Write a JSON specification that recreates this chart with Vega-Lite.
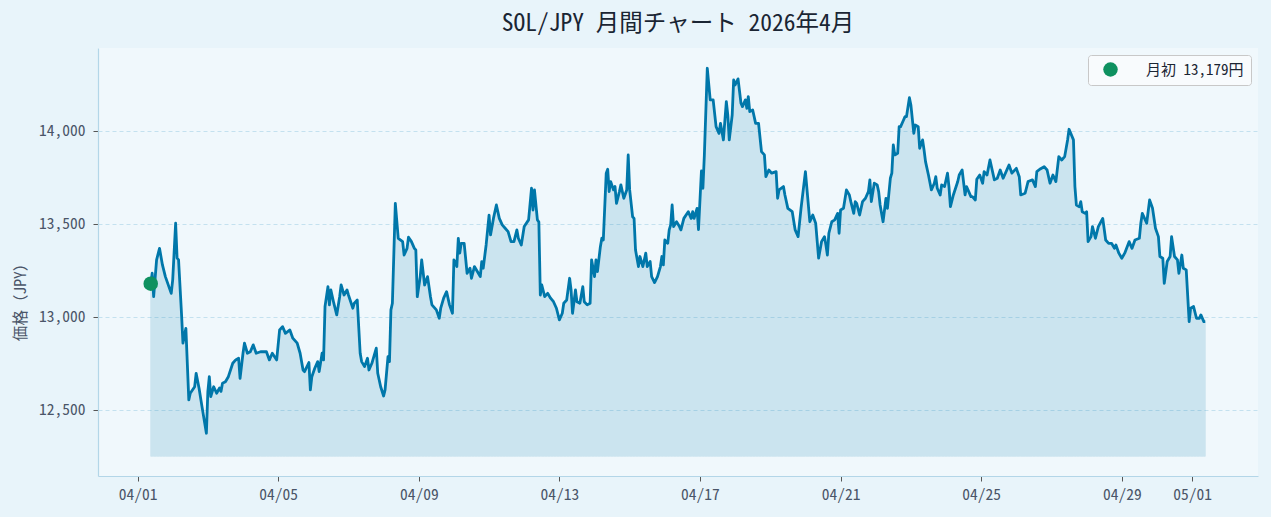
{
  "$schema": "https://vega.github.io/schema/vega-lite/v6.json",
  "width": 1160,
  "height": 428,
  "autosize": {"type": "none"},
  "padding": {"left": 98, "top": 48, "right": 13, "bottom": 41},
  "background": "#e8f4fa",
  "title": {
    "text": "SOL/JPY 月間チャート 2026年4月",
    "fontSize": 23.5,
    "font": "Noto Sans Mono CJK JP",
    "fontWeight": "normal",
    "color": "#1a2533",
    "anchor": "middle",
    "offset": 13
  },
  "config": {
    "view": {"fill": "#f0f8fc", "stroke": null},
    "axis": {
      "labelFont": "Noto Sans Mono CJK JP",
      "titleFont": "Noto Sans Mono CJK JP",
      "labelFontSize": 15.5,
      "titleFontSize": 15.5,
      "titleFontWeight": "normal",
      "labelFontWeight": "normal",
      "labelColor": "#4a5568",
      "titleColor": "#4a5568",
      "domainColor": "#b3d6e8",
      "domainWidth": 1.2,
      "tickColor": "#555555",
      "tickSize": 5
    }
  },
  "datasets": {
    "prices": [
      {"t": "2026-04-01T09:00", "price": 13179},
      {"t": "2026-04-01T10:00", "price": 13235},
      {"t": "2026-04-01T11:00", "price": 13109},
      {"t": "2026-04-01T13:00", "price": 13307},
      {"t": "2026-04-01T15:00", "price": 13369},
      {"t": "2026-04-01T17:00", "price": 13280},
      {"t": "2026-04-01T19:00", "price": 13217},
      {"t": "2026-04-01T23:00", "price": 13127},
      {"t": "2026-04-02T00:00", "price": 13199},
      {"t": "2026-04-02T02:00", "price": 13504},
      {"t": "2026-04-02T03:00", "price": 13317},
      {"t": "2026-04-02T04:00", "price": 13307},
      {"t": "2026-04-02T06:00", "price": 13020},
      {"t": "2026-04-02T07:00", "price": 12859},
      {"t": "2026-04-02T09:00", "price": 12939},
      {"t": "2026-04-02T11:00", "price": 12554},
      {"t": "2026-04-02T12:00", "price": 12590},
      {"t": "2026-04-02T15:00", "price": 12625},
      {"t": "2026-04-02T16:00", "price": 12697},
      {"t": "2026-04-02T18:00", "price": 12617},
      {"t": "2026-04-02T20:00", "price": 12518},
      {"t": "2026-04-02T23:00", "price": 12375},
      {"t": "2026-04-03T00:00", "price": 12598},
      {"t": "2026-04-03T01:00", "price": 12679},
      {"t": "2026-04-03T02:00", "price": 12572},
      {"t": "2026-04-03T04:00", "price": 12625},
      {"t": "2026-04-03T06:00", "price": 12590},
      {"t": "2026-04-03T08:00", "price": 12618},
      {"t": "2026-04-03T09:00", "price": 12600},
      {"t": "2026-04-03T10:00", "price": 12644},
      {"t": "2026-04-03T12:00", "price": 12652},
      {"t": "2026-04-03T14:00", "price": 12679},
      {"t": "2026-04-03T17:00", "price": 12751},
      {"t": "2026-04-03T19:00", "price": 12769},
      {"t": "2026-04-03T21:00", "price": 12778},
      {"t": "2026-04-03T22:00", "price": 12670},
      {"t": "2026-04-04T00:00", "price": 12805},
      {"t": "2026-04-04T01:00", "price": 12859},
      {"t": "2026-04-04T03:00", "price": 12805},
      {"t": "2026-04-04T05:00", "price": 12813},
      {"t": "2026-04-04T07:00", "price": 12850},
      {"t": "2026-04-04T09:00", "price": 12805},
      {"t": "2026-04-04T12:00", "price": 12813},
      {"t": "2026-04-04T16:00", "price": 12813},
      {"t": "2026-04-04T18:00", "price": 12769},
      {"t": "2026-04-04T20:00", "price": 12805},
      {"t": "2026-04-04T23:00", "price": 12769},
      {"t": "2026-04-05T01:00", "price": 12930},
      {"t": "2026-04-05T03:00", "price": 12948},
      {"t": "2026-04-05T05:00", "price": 12912},
      {"t": "2026-04-05T08:00", "price": 12930},
      {"t": "2026-04-05T10:00", "price": 12886},
      {"t": "2026-04-05T13:00", "price": 12859},
      {"t": "2026-04-05T15:00", "price": 12805},
      {"t": "2026-04-05T17:00", "price": 12715},
      {"t": "2026-04-05T18:00", "price": 12706},
      {"t": "2026-04-05T21:00", "price": 12755},
      {"t": "2026-04-05T22:00", "price": 12608},
      {"t": "2026-04-05T23:00", "price": 12679},
      {"t": "2026-04-06T01:00", "price": 12724},
      {"t": "2026-04-06T03:00", "price": 12760},
      {"t": "2026-04-06T04:00", "price": 12706},
      {"t": "2026-04-06T06:00", "price": 12805},
      {"t": "2026-04-06T07:00", "price": 12769},
      {"t": "2026-04-06T08:00", "price": 13056},
      {"t": "2026-04-06T10:00", "price": 13163},
      {"t": "2026-04-06T11:00", "price": 13065},
      {"t": "2026-04-06T12:00", "price": 13145},
      {"t": "2026-04-06T14:00", "price": 13074},
      {"t": "2026-04-06T16:00", "price": 13011},
      {"t": "2026-04-06T18:00", "price": 13109},
      {"t": "2026-04-06T19:00", "price": 13172},
      {"t": "2026-04-06T21:00", "price": 13118},
      {"t": "2026-04-06T23:00", "price": 13145},
      {"t": "2026-04-07T00:00", "price": 13118},
      {"t": "2026-04-07T03:00", "price": 13047},
      {"t": "2026-04-07T04:00", "price": 13074},
      {"t": "2026-04-07T06:00", "price": 13091},
      {"t": "2026-04-07T08:00", "price": 12805},
      {"t": "2026-04-07T09:00", "price": 12760},
      {"t": "2026-04-07T11:00", "price": 12733},
      {"t": "2026-04-07T13:00", "price": 12778},
      {"t": "2026-04-07T14:00", "price": 12715},
      {"t": "2026-04-07T16:00", "price": 12751},
      {"t": "2026-04-07T19:00", "price": 12832},
      {"t": "2026-04-07T20:00", "price": 12697},
      {"t": "2026-04-07T22:00", "price": 12625},
      {"t": "2026-04-08T00:00", "price": 12575},
      {"t": "2026-04-08T01:00", "price": 12608},
      {"t": "2026-04-08T03:00", "price": 12787},
      {"t": "2026-04-08T04:00", "price": 12760},
      {"t": "2026-04-08T05:00", "price": 13038},
      {"t": "2026-04-08T06:00", "price": 13074},
      {"t": "2026-04-08T08:00", "price": 13611},
      {"t": "2026-04-08T10:00", "price": 13423},
      {"t": "2026-04-08T13:00", "price": 13405},
      {"t": "2026-04-08T14:00", "price": 13333},
      {"t": "2026-04-08T16:00", "price": 13369},
      {"t": "2026-04-08T17:00", "price": 13429},
      {"t": "2026-04-08T19:00", "price": 13405},
      {"t": "2026-04-08T21:00", "price": 13369},
      {"t": "2026-04-08T22:00", "price": 13360},
      {"t": "2026-04-08T23:00", "price": 13109},
      {"t": "2026-04-09T01:00", "price": 13217},
      {"t": "2026-04-09T02:00", "price": 13307},
      {"t": "2026-04-09T04:00", "price": 13172},
      {"t": "2026-04-09T06:00", "price": 13217},
      {"t": "2026-04-09T08:00", "price": 13109},
      {"t": "2026-04-09T09:00", "price": 13065},
      {"t": "2026-04-09T12:00", "price": 13038},
      {"t": "2026-04-09T14:00", "price": 12993},
      {"t": "2026-04-09T15:00", "price": 13047},
      {"t": "2026-04-09T17:00", "price": 13101},
      {"t": "2026-04-09T19:00", "price": 13136},
      {"t": "2026-04-09T21:00", "price": 13065},
      {"t": "2026-04-09T23:00", "price": 13020},
      {"t": "2026-04-10T00:00", "price": 13307},
      {"t": "2026-04-10T02:00", "price": 13271},
      {"t": "2026-04-10T03:00", "price": 13423},
      {"t": "2026-04-10T04:00", "price": 13343},
      {"t": "2026-04-10T05:00", "price": 13396},
      {"t": "2026-04-10T07:00", "price": 13396},
      {"t": "2026-04-10T09:00", "price": 13235},
      {"t": "2026-04-10T11:00", "price": 13262},
      {"t": "2026-04-10T12:00", "price": 13208},
      {"t": "2026-04-10T14:00", "price": 13271},
      {"t": "2026-04-10T16:00", "price": 13244},
      {"t": "2026-04-10T18:00", "price": 13217},
      {"t": "2026-04-10T19:00", "price": 13298},
      {"t": "2026-04-10T20:00", "price": 13262},
      {"t": "2026-04-10T22:00", "price": 13387},
      {"t": "2026-04-11T00:00", "price": 13548},
      {"t": "2026-04-11T01:00", "price": 13441},
      {"t": "2026-04-11T03:00", "price": 13530},
      {"t": "2026-04-11T05:00", "price": 13602},
      {"t": "2026-04-11T07:00", "price": 13530},
      {"t": "2026-04-11T09:00", "price": 13495},
      {"t": "2026-04-11T11:00", "price": 13477},
      {"t": "2026-04-11T13:00", "price": 13459},
      {"t": "2026-04-11T15:00", "price": 13405},
      {"t": "2026-04-11T17:00", "price": 13405},
      {"t": "2026-04-11T19:00", "price": 13468},
      {"t": "2026-04-11T20:00", "price": 13423},
      {"t": "2026-04-11T22:00", "price": 13387},
      {"t": "2026-04-12T00:00", "price": 13486},
      {"t": "2026-04-12T03:00", "price": 13522},
      {"t": "2026-04-12T05:00", "price": 13692},
      {"t": "2026-04-12T06:00", "price": 13575},
      {"t": "2026-04-12T07:00", "price": 13683},
      {"t": "2026-04-12T09:00", "price": 13522},
      {"t": "2026-04-12T10:00", "price": 13510},
      {"t": "2026-04-12T11:00", "price": 13118},
      {"t": "2026-04-12T12:00", "price": 13172},
      {"t": "2026-04-12T14:00", "price": 13109},
      {"t": "2026-04-12T16:00", "price": 13127},
      {"t": "2026-04-12T18:00", "price": 13101},
      {"t": "2026-04-12T20:00", "price": 13082},
      {"t": "2026-04-12T22:00", "price": 13047},
      {"t": "2026-04-13T00:00", "price": 12984},
      {"t": "2026-04-13T02:00", "price": 13020},
      {"t": "2026-04-13T03:00", "price": 13074},
      {"t": "2026-04-13T05:00", "price": 13091},
      {"t": "2026-04-13T07:00", "price": 13208},
      {"t": "2026-04-13T08:00", "price": 13145},
      {"t": "2026-04-13T09:00", "price": 13020},
      {"t": "2026-04-13T11:00", "price": 13145},
      {"t": "2026-04-13T12:00", "price": 13082},
      {"t": "2026-04-13T14:00", "price": 13074},
      {"t": "2026-04-13T16:00", "price": 13163},
      {"t": "2026-04-13T17:00", "price": 13082},
      {"t": "2026-04-13T19:00", "price": 13065},
      {"t": "2026-04-13T21:00", "price": 13074},
      {"t": "2026-04-13T22:00", "price": 13307},
      {"t": "2026-04-14T00:00", "price": 13217},
      {"t": "2026-04-14T01:00", "price": 13307},
      {"t": "2026-04-14T02:00", "price": 13244},
      {"t": "2026-04-14T04:00", "price": 13378},
      {"t": "2026-04-14T05:00", "price": 13423},
      {"t": "2026-04-14T06:00", "price": 13414},
      {"t": "2026-04-14T08:00", "price": 13773},
      {"t": "2026-04-14T09:00", "price": 13794},
      {"t": "2026-04-14T10:00", "price": 13674},
      {"t": "2026-04-14T11:00", "price": 13728},
      {"t": "2026-04-14T13:00", "price": 13683},
      {"t": "2026-04-14T14:00", "price": 13701},
      {"t": "2026-04-14T15:00", "price": 13611},
      {"t": "2026-04-14T17:00", "price": 13674},
      {"t": "2026-04-14T18:00", "price": 13710},
      {"t": "2026-04-14T20:00", "price": 13638},
      {"t": "2026-04-14T22:00", "price": 13683},
      {"t": "2026-04-14T23:00", "price": 13871},
      {"t": "2026-04-15T00:00", "price": 13683},
      {"t": "2026-04-15T02:00", "price": 13539},
      {"t": "2026-04-15T03:00", "price": 13530},
      {"t": "2026-04-15T04:00", "price": 13360},
      {"t": "2026-04-15T06:00", "price": 13271},
      {"t": "2026-04-15T07:00", "price": 13325},
      {"t": "2026-04-15T09:00", "price": 13271},
      {"t": "2026-04-15T11:00", "price": 13343},
      {"t": "2026-04-15T12:00", "price": 13271},
      {"t": "2026-04-15T14:00", "price": 13298},
      {"t": "2026-04-15T15:00", "price": 13217},
      {"t": "2026-04-15T17:00", "price": 13185},
      {"t": "2026-04-15T19:00", "price": 13217},
      {"t": "2026-04-15T21:00", "price": 13271},
      {"t": "2026-04-15T22:00", "price": 13325},
      {"t": "2026-04-15T23:00", "price": 13280},
      {"t": "2026-04-16T00:00", "price": 13414},
      {"t": "2026-04-16T02:00", "price": 13396},
      {"t": "2026-04-16T03:00", "price": 13468},
      {"t": "2026-04-16T04:00", "price": 13495},
      {"t": "2026-04-16T05:00", "price": 13602},
      {"t": "2026-04-16T06:00", "price": 13486},
      {"t": "2026-04-16T08:00", "price": 13512},
      {"t": "2026-04-16T10:00", "price": 13486},
      {"t": "2026-04-16T11:00", "price": 13468},
      {"t": "2026-04-16T13:00", "price": 13530},
      {"t": "2026-04-16T16:00", "price": 13566},
      {"t": "2026-04-16T18:00", "price": 13530},
      {"t": "2026-04-16T19:00", "price": 13566},
      {"t": "2026-04-16T20:00", "price": 13530},
      {"t": "2026-04-16T22:00", "price": 13584},
      {"t": "2026-04-16T23:00", "price": 13470},
      {"t": "2026-04-17T01:00", "price": 13785},
      {"t": "2026-04-17T02:00", "price": 13692},
      {"t": "2026-04-17T03:00", "price": 13871},
      {"t": "2026-04-17T05:00", "price": 14337},
      {"t": "2026-04-17T07:00", "price": 14167},
      {"t": "2026-04-17T09:00", "price": 14167},
      {"t": "2026-04-17T11:00", "price": 14023},
      {"t": "2026-04-17T13:00", "price": 13987},
      {"t": "2026-04-17T14:00", "price": 14041},
      {"t": "2026-04-17T16:00", "price": 13952},
      {"t": "2026-04-17T18:00", "price": 14158},
      {"t": "2026-04-17T19:00", "price": 14086},
      {"t": "2026-04-17T20:00", "price": 13952},
      {"t": "2026-04-17T22:00", "price": 14086},
      {"t": "2026-04-17T23:00", "price": 14274},
      {"t": "2026-04-18T00:00", "price": 14247},
      {"t": "2026-04-18T02:00", "price": 14280},
      {"t": "2026-04-18T04:00", "price": 14149},
      {"t": "2026-04-18T05:00", "price": 14131},
      {"t": "2026-04-18T07:00", "price": 14167},
      {"t": "2026-04-18T08:00", "price": 14122},
      {"t": "2026-04-18T09:00", "price": 14185},
      {"t": "2026-04-18T10:00", "price": 14104},
      {"t": "2026-04-18T12:00", "price": 14113},
      {"t": "2026-04-18T14:00", "price": 14041},
      {"t": "2026-04-18T16:00", "price": 14041},
      {"t": "2026-04-18T18:00", "price": 13889},
      {"t": "2026-04-18T20:00", "price": 13871},
      {"t": "2026-04-18T21:00", "price": 13754},
      {"t": "2026-04-18T23:00", "price": 13790},
      {"t": "2026-04-19T01:00", "price": 13773},
      {"t": "2026-04-19T04:00", "price": 13781},
      {"t": "2026-04-19T05:00", "price": 13638},
      {"t": "2026-04-19T06:00", "price": 13683},
      {"t": "2026-04-19T09:00", "price": 13701},
      {"t": "2026-04-19T10:00", "price": 13656},
      {"t": "2026-04-19T12:00", "price": 13584},
      {"t": "2026-04-19T15:00", "price": 13566},
      {"t": "2026-04-19T17:00", "price": 13468},
      {"t": "2026-04-19T19:00", "price": 13432},
      {"t": "2026-04-19T21:00", "price": 13584},
      {"t": "2026-04-20T00:00", "price": 13781},
      {"t": "2026-04-20T03:00", "price": 13512},
      {"t": "2026-04-20T05:00", "price": 13548},
      {"t": "2026-04-20T07:00", "price": 13504},
      {"t": "2026-04-20T09:00", "price": 13316},
      {"t": "2026-04-20T11:00", "price": 13405},
      {"t": "2026-04-20T13:00", "price": 13432},
      {"t": "2026-04-20T14:00", "price": 13387},
      {"t": "2026-04-20T15:00", "price": 13333},
      {"t": "2026-04-20T16:00", "price": 13450},
      {"t": "2026-04-20T18:00", "price": 13512},
      {"t": "2026-04-20T20:00", "price": 13522},
      {"t": "2026-04-20T22:00", "price": 13557},
      {"t": "2026-04-20T23:00", "price": 13450},
      {"t": "2026-04-21T00:00", "price": 13575},
      {"t": "2026-04-21T02:00", "price": 13584},
      {"t": "2026-04-21T04:00", "price": 13683},
      {"t": "2026-04-21T06:00", "price": 13656},
      {"t": "2026-04-21T07:00", "price": 13620},
      {"t": "2026-04-21T09:00", "price": 13557},
      {"t": "2026-04-21T10:00", "price": 13620},
      {"t": "2026-04-21T11:00", "price": 13611},
      {"t": "2026-04-21T13:00", "price": 13548},
      {"t": "2026-04-21T15:00", "price": 13620},
      {"t": "2026-04-21T17:00", "price": 13638},
      {"t": "2026-04-21T19:00", "price": 13674},
      {"t": "2026-04-21T20:00", "price": 13737},
      {"t": "2026-04-21T21:00", "price": 13620},
      {"t": "2026-04-21T23:00", "price": 13719},
      {"t": "2026-04-22T01:00", "price": 13710},
      {"t": "2026-04-22T02:00", "price": 13674},
      {"t": "2026-04-22T03:00", "price": 13602},
      {"t": "2026-04-22T05:00", "price": 13512},
      {"t": "2026-04-22T07:00", "price": 13638},
      {"t": "2026-04-22T08:00", "price": 13584},
      {"t": "2026-04-22T10:00", "price": 13746},
      {"t": "2026-04-22T11:00", "price": 13773},
      {"t": "2026-04-22T12:00", "price": 13925},
      {"t": "2026-04-22T13:00", "price": 13871},
      {"t": "2026-04-22T15:00", "price": 13880},
      {"t": "2026-04-22T16:00", "price": 14023},
      {"t": "2026-04-22T17:00", "price": 14023},
      {"t": "2026-04-22T19:00", "price": 14059},
      {"t": "2026-04-22T20:00", "price": 14077},
      {"t": "2026-04-22T21:00", "price": 14077},
      {"t": "2026-04-22T23:00", "price": 14179},
      {"t": "2026-04-23T00:00", "price": 14140},
      {"t": "2026-04-23T02:00", "price": 13987},
      {"t": "2026-04-23T03:00", "price": 14032},
      {"t": "2026-04-23T05:00", "price": 14023},
      {"t": "2026-04-23T06:00", "price": 13907},
      {"t": "2026-04-23T08:00", "price": 13952},
      {"t": "2026-04-23T09:00", "price": 13898},
      {"t": "2026-04-23T10:00", "price": 13835},
      {"t": "2026-04-23T12:00", "price": 13763},
      {"t": "2026-04-23T14:00", "price": 13683},
      {"t": "2026-04-23T16:00", "price": 13719},
      {"t": "2026-04-23T17:00", "price": 13754},
      {"t": "2026-04-23T18:00", "price": 13692},
      {"t": "2026-04-23T20:00", "price": 13656},
      {"t": "2026-04-23T21:00", "price": 13710},
      {"t": "2026-04-23T23:00", "price": 13701},
      {"t": "2026-04-24T01:00", "price": 13773},
      {"t": "2026-04-24T02:00", "price": 13701},
      {"t": "2026-04-24T03:00", "price": 13593},
      {"t": "2026-04-24T05:00", "price": 13656},
      {"t": "2026-04-24T08:00", "price": 13728},
      {"t": "2026-04-24T09:00", "price": 13763},
      {"t": "2026-04-24T11:00", "price": 13790},
      {"t": "2026-04-24T13:00", "price": 13656},
      {"t": "2026-04-24T14:00", "price": 13701},
      {"t": "2026-04-24T17:00", "price": 13647},
      {"t": "2026-04-24T18:00", "price": 13647},
      {"t": "2026-04-24T20:00", "price": 13629},
      {"t": "2026-04-24T21:00", "price": 13740},
      {"t": "2026-04-24T23:00", "price": 13763},
      {"t": "2026-04-25T01:00", "price": 13719},
      {"t": "2026-04-25T02:00", "price": 13781},
      {"t": "2026-04-25T04:00", "price": 13763},
      {"t": "2026-04-25T06:00", "price": 13844},
      {"t": "2026-04-25T09:00", "price": 13737},
      {"t": "2026-04-25T11:00", "price": 13746},
      {"t": "2026-04-25T13:00", "price": 13790},
      {"t": "2026-04-25T15:00", "price": 13746},
      {"t": "2026-04-25T18:00", "price": 13799},
      {"t": "2026-04-25T19:00", "price": 13817},
      {"t": "2026-04-25T21:00", "price": 13773},
      {"t": "2026-04-26T00:00", "price": 13799},
      {"t": "2026-04-26T02:00", "price": 13754},
      {"t": "2026-04-26T03:00", "price": 13656},
      {"t": "2026-04-26T06:00", "price": 13665},
      {"t": "2026-04-26T08:00", "price": 13728},
      {"t": "2026-04-26T11:00", "price": 13737},
      {"t": "2026-04-26T13:00", "price": 13701},
      {"t": "2026-04-26T14:00", "price": 13781},
      {"t": "2026-04-26T16:00", "price": 13794},
      {"t": "2026-04-26T19:00", "price": 13808},
      {"t": "2026-04-26T21:00", "price": 13790},
      {"t": "2026-04-26T23:00", "price": 13719},
      {"t": "2026-04-27T01:00", "price": 13763},
      {"t": "2026-04-27T03:00", "price": 13728},
      {"t": "2026-04-27T05:00", "price": 13862},
      {"t": "2026-04-27T07:00", "price": 13844},
      {"t": "2026-04-27T09:00", "price": 13862},
      {"t": "2026-04-27T11:00", "price": 13952},
      {"t": "2026-04-27T12:00", "price": 14009},
      {"t": "2026-04-27T15:00", "price": 13952},
      {"t": "2026-04-27T16:00", "price": 13701},
      {"t": "2026-04-27T17:00", "price": 13602},
      {"t": "2026-04-27T19:00", "price": 13593},
      {"t": "2026-04-27T20:00", "price": 13620},
      {"t": "2026-04-27T21:00", "price": 13566},
      {"t": "2026-04-27T23:00", "price": 13557},
      {"t": "2026-04-28T00:00", "price": 13566},
      {"t": "2026-04-28T01:00", "price": 13405},
      {"t": "2026-04-28T03:00", "price": 13432},
      {"t": "2026-04-28T04:00", "price": 13486},
      {"t": "2026-04-28T06:00", "price": 13423},
      {"t": "2026-04-28T08:00", "price": 13486},
      {"t": "2026-04-28T11:00", "price": 13530},
      {"t": "2026-04-28T13:00", "price": 13414},
      {"t": "2026-04-28T15:00", "price": 13396},
      {"t": "2026-04-28T17:00", "price": 13396},
      {"t": "2026-04-28T19:00", "price": 13369},
      {"t": "2026-04-28T20:00", "price": 13387},
      {"t": "2026-04-28T22:00", "price": 13343},
      {"t": "2026-04-29T00:00", "price": 13316},
      {"t": "2026-04-29T02:00", "price": 13343},
      {"t": "2026-04-29T05:00", "price": 13405},
      {"t": "2026-04-29T07:00", "price": 13369},
      {"t": "2026-04-29T09:00", "price": 13414},
      {"t": "2026-04-29T12:00", "price": 13423},
      {"t": "2026-04-29T13:00", "price": 13504},
      {"t": "2026-04-29T14:00", "price": 13557},
      {"t": "2026-04-29T16:00", "price": 13522},
      {"t": "2026-04-29T17:00", "price": 13504},
      {"t": "2026-04-29T19:00", "price": 13629},
      {"t": "2026-04-29T21:00", "price": 13584},
      {"t": "2026-04-29T23:00", "price": 13477},
      {"t": "2026-04-30T01:00", "price": 13432},
      {"t": "2026-04-30T02:00", "price": 13325},
      {"t": "2026-04-30T04:00", "price": 13316},
      {"t": "2026-04-30T05:00", "price": 13181},
      {"t": "2026-04-30T07:00", "price": 13298},
      {"t": "2026-04-30T09:00", "price": 13325},
      {"t": "2026-04-30T10:00", "price": 13432},
      {"t": "2026-04-30T12:00", "price": 13325},
      {"t": "2026-04-30T14:00", "price": 13307},
      {"t": "2026-04-30T15:00", "price": 13235},
      {"t": "2026-04-30T17:00", "price": 13333},
      {"t": "2026-04-30T18:00", "price": 13262},
      {"t": "2026-04-30T20:00", "price": 13253},
      {"t": "2026-04-30T22:00", "price": 12975},
      {"t": "2026-04-30T23:00", "price": 13047},
      {"t": "2026-05-01T01:00", "price": 13056},
      {"t": "2026-05-01T03:00", "price": 12993},
      {"t": "2026-05-01T05:00", "price": 12993},
      {"t": "2026-05-01T06:00", "price": 13011},
      {"t": "2026-05-01T08:00", "price": 12975},
      {"t": "2026-05-01T09:00", "price": 12975}
    ],
    "start": [
      {"t": "2026-04-01T09:00", "price": 13179, "label": "月初 13,179円"}
    ]
  },
  "encoding": {
    "x": {
      "field": "t",
      "type": "temporal",
      "title": null,
      "scale": {
        "domain": [
          {"year": 2026, "month": 3, "date": 30, "hours": 21},
          {"year": 2026, "month": 5, "date": 2, "hours": 21}
        ]
      },
      "axis": {
        "format": "%m/%d",
        "grid": false,
        "labelPadding": 6,
        "values": [
          {"year": 2026, "month": 4, "date": 1},
          {"year": 2026, "month": 4, "date": 5},
          {"year": 2026, "month": 4, "date": 9},
          {"year": 2026, "month": 4, "date": 13},
          {"year": 2026, "month": 4, "date": 17},
          {"year": 2026, "month": 4, "date": 21},
          {"year": 2026, "month": 4, "date": 25},
          {"year": 2026, "month": 4, "date": 29},
          {"year": 2026, "month": 5, "date": 1}
        ]
      }
    },
    "y": {
      "field": "price",
      "type": "quantitative",
      "title": "価格（JPY）",
      "scale": {"domain": [12145, 14446], "nice": false, "zero": false},
      "axis": {
        "values": [12500, 13000, 13500, 14000],
        "format": ",.0f",
        "grid": true,
        "gridColor": "#b9dbeb",
        "gridDash": [4, 3],
        "gridWidth": 0.8,
        "labelPadding": 8,
        "titleX": -78,
        "titleY": 250,
        "titleBaseline": "middle",
        "titleAlign": "center"
      }
    }
  },
  "layer": [
    {
      "data": {"name": "prices"},
      "mark": {
        "type": "area",
        "color": "#0077aa",
        "opacity": 0.15,
        "stroke": "#0077aa",
        "strokeWidth": 0.8
      },
      "encoding": {
        "y2": {"datum": 12251}
      }
    },
    {
      "data": {"name": "prices"},
      "mark": {"type": "line", "color": "#0077aa", "strokeWidth": 2.8, "strokeJoin": "round"}
    },
    {
      "data": {"name": "start"},
      "mark": {"type": "point", "filled": true, "size": 210, "opacity": 1},
      "encoding": {
        "color": {
          "field": "label",
          "type": "nominal",
          "scale": {"range": ["#0e9160"]},
          "legend": {
            "title": null,
            "orient": "top-right",
            "offset": 7,
            "fillColor": "#f8fbfd",
            "strokeColor": "#c8c8c8",
            "cornerRadius": 3,
            "padding": 7,
            "symbolOffset": 8,
            "labelOffset": 28,
            "labelFont": "Noto Sans Mono CJK JP",
            "labelFontSize": 15,
            "labelColor": "#1a2533",
            "symbolSize": 210,
            "symbolType": "circle",
            "symbolStrokeWidth": 0
          }
        }
      }
    }
  ]
}
